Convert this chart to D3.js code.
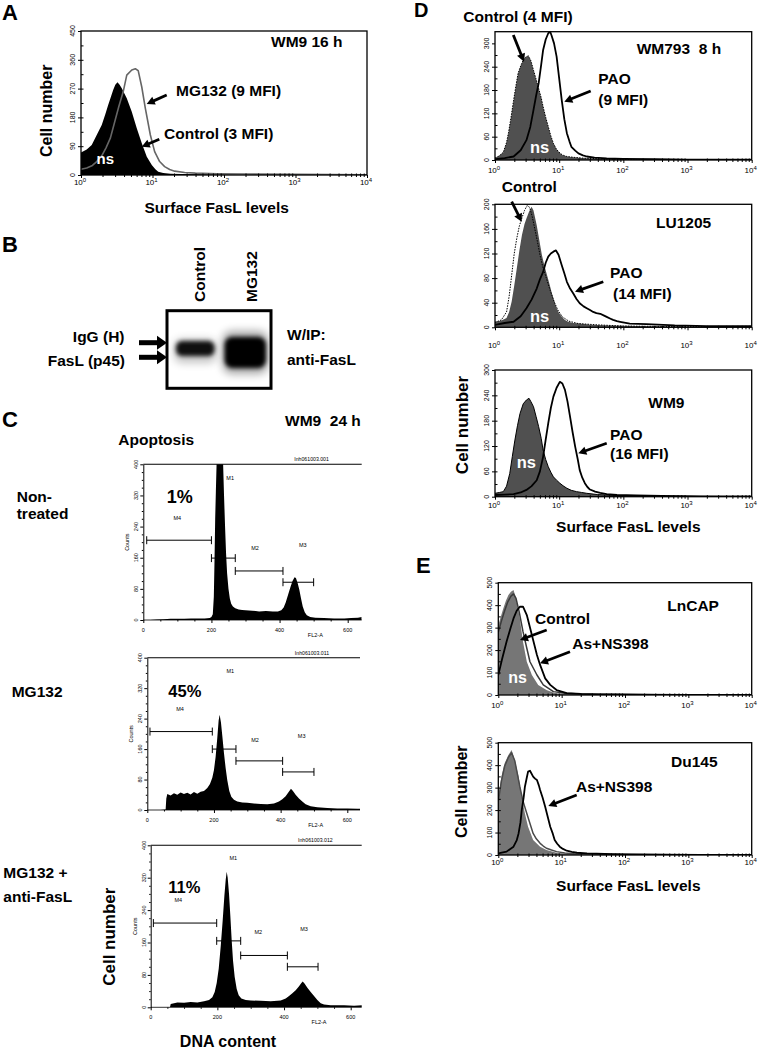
<!DOCTYPE html>
<html>
<head>
<meta charset="utf-8">
<script src="https://cdn.jsdelivr.net/npm/d3@7/dist/d3.min.js"></script>
<style>
html,body{margin:0;padding:0;background:#fff;}
svg{display:block;}
text{font-family:"Liberation Sans",Arial,Helvetica,sans-serif;}
</style>
</head>
<body>
<svg id="fig" width="762" height="1049" viewBox="0 0 762 1049"></svg>
<script>
// ================= DATA =================
// Flow cytometry histograms: [log10 surface FasL intensity, cell number]
// Panel A (WM9 16 h)
const aNs = [[0,70],[0.08,80],[0.15,94],[0.22,125],[0.29,156],[0.34,190],[0.38,219],[0.42,245],[0.45,266],[0.48,282],[0.51,290],[0.54,282],[0.57,271],[0.64,240],[0.71,198],[0.78,146],[0.85,99],[0.92,57],[0.99,31],[1.04,18],[1.08,10],[1.15,6],[1.25,4],[1.4,3],[1.7,2],[2.2,1],[3,1],[4,0]];
const aMG132 = [[0,18],[0.08,22],[0.16,30],[0.22,42],[0.29,60],[0.35,85],[0.41,115],[0.47,165],[0.53,215],[0.59,260],[0.64,312],[0.71,328],[0.76,332],[0.8,326],[0.85,275],[0.9,208],[0.97,125],[1.03,73],[1.1,42],[1.17,26],[1.24,17],[1.31,12],[1.45,8],[1.6,6],[1.9,4],[2.3,3],[3,2],[4,1]];
// Panel D, WM793 8 h
const d1Ns = [[0,5],[0.06,10],[0.13,20],[0.18,45],[0.21,70],[0.25,110],[0.29,154],[0.33,195],[0.36,223],[0.4,242],[0.44,257],[0.48,265],[0.52,268],[0.56,255],[0.6,231],[0.64,208],[0.68,184],[0.72,160],[0.75,137],[0.79,110],[0.83,86],[0.87,62],[0.91,43],[0.95,30],[0.99,21],[1.05,13],[1.12,9],[1.22,7],[1.35,5],[1.5,4],[1.8,2],[2.2,1],[3,1],[4,0]];
const d1Pao = [[0,2],[0.15,5],[0.29,9],[0.4,25],[0.49,51],[0.55,85],[0.6,129],[0.64,165],[0.68,197],[0.72,245],[0.75,283],[0.79,310],[0.83,326],[0.86,330],[0.88,321],[0.92,300],[0.96,266],[1.0,210],[1.04,154],[1.08,105],[1.12,69],[1.16,48],[1.19,34],[1.25,24],[1.3,17],[1.37,12],[1.43,9],[1.55,6],[1.74,4],[2.0,3],[2.5,2],[3,1],[3.5,1],[4,1]];
// Panel D, LU1205
const d2Ns = [[0,9],[0.1,11],[0.18,15],[0.22,25],[0.26,42],[0.3,68],[0.34,96],[0.38,125],[0.42,150],[0.46,168],[0.49,177],[0.53,188],[0.57,196],[0.6,190],[0.65,166],[0.69,142],[0.73,118],[0.77,100],[0.81,85],[0.85,70],[0.88,58],[0.92,44],[0.96,31],[1.0,23],[1.04,17],[1.09,12],[1.14,9],[1.22,7],[1.32,6],[1.5,4],[1.8,3],[2.2,2],[3,1],[4,1]];
const d2Control = [[0,8],[0.1,12],[0.18,25],[0.22,50],[0.26,85],[0.3,120],[0.34,145],[0.38,165],[0.42,178],[0.46,190],[0.5,198],[0.54,195],[0.58,180],[0.62,160],[0.66,140],[0.7,118],[0.74,100],[0.8,80],[0.86,60],[0.92,42],[0.98,28],[1.05,17],[1.15,10],[1.3,6],[1.6,4],[2,2],[3,1],[4,1]];
const d2Pao = [[0,4],[0.15,7],[0.29,9],[0.4,18],[0.49,31],[0.57,45],[0.65,63],[0.7,78],[0.75,90],[0.79,105],[0.83,115],[0.87,120],[0.91,123],[0.95,125],[0.99,118],[1.04,101],[1.08,88],[1.12,74],[1.17,63],[1.22,55],[1.27,46],[1.32,39],[1.38,34],[1.43,31],[1.48,28],[1.53,25],[1.58,23],[1.64,22],[1.7,19],[1.74,17],[1.8,14],[1.84,12],[1.9,10],[1.95,9],[2.1,6],[2.36,5],[2.8,3],[3.3,2],[4,2]];
// Panel D, WM9
const d3Ns = [[0,8],[0.07,10],[0.13,12],[0.18,25],[0.23,55],[0.27,95],[0.31,134],[0.35,168],[0.39,197],[0.44,220],[0.49,229],[0.53,233],[0.56,225],[0.6,213],[0.64,190],[0.68,166],[0.72,138],[0.75,110],[0.79,88],[0.83,71],[0.87,58],[0.91,47],[0.96,39],[1.01,32],[1.06,26],[1.12,20],[1.19,15],[1.27,12],[1.35,10],[1.43,8],[1.6,5],[1.74,4],[2.0,2],[2.5,1],[3,1],[4,0]];
const d3Pao = [[0,4],[0.15,5],[0.29,6],[0.4,10],[0.49,16],[0.57,25],[0.65,39],[0.7,60],[0.75,95],[0.79,135],[0.83,174],[0.87,210],[0.91,237],[0.96,258],[1.01,272],[1.05,268],[1.09,253],[1.13,225],[1.17,189],[1.21,152],[1.25,118],[1.29,88],[1.32,63],[1.36,45],[1.4,32],[1.44,23],[1.48,17],[1.56,12],[1.64,9],[1.74,6],[1.9,4],[2.2,3],[2.6,2],[3.2,1],[4,1]];
// Panel E, LnCAP
const e1Ns = [[0,311],[0.04,350],[0.08,386],[0.12,420],[0.16,445],[0.2,460],[0.24,467],[0.27,440],[0.29,415],[0.34,341],[0.39,237],[0.45,148],[0.53,89],[0.63,45],[0.76,22],[0.9,8],[1.1,5],[1.4,3],[1.8,2],[2.5,1],[4,0]];
const e1Control = [[0,280],[0.05,330],[0.1,375],[0.15,415],[0.2,440],[0.24,450],[0.28,430],[0.33,370],[0.39,282],[0.45,208],[0.5,148],[0.61,89],[0.71,45],[0.87,15],[1.05,8],[1.3,5],[1.8,3],[2.5,1],[4,1]];
const e1AsNS398 = [[0,89],[0.06,160],[0.13,237],[0.19,295],[0.24,341],[0.29,375],[0.34,393],[0.39,393],[0.45,356],[0.53,267],[0.61,178],[0.66,134],[0.74,74],[0.82,45],[0.92,22],[1.08,8],[1.3,5],[1.6,3],[2.2,2],[3,1],[4,1]];
// Panel E, Du145
const e2Ns = [[0,260],[0.05,349],[0.1,409],[0.16,445],[0.21,467],[0.26,423],[0.32,349],[0.37,260],[0.42,185],[0.47,126],[0.55,67],[0.66,37],[0.76,22],[0.92,10],[1.13,4],[1.55,2],[2.5,1],[4,0]];
const e2Control = [[0,240],[0.05,330],[0.1,395],[0.16,435],[0.21,455],[0.26,420],[0.34,304],[0.39,240],[0.45,185],[0.5,140],[0.55,96],[0.6,72],[0.66,52],[0.71,40],[0.76,30],[0.84,22],[0.92,15],[1.05,9],[1.2,6],[1.5,4],[2,2],[2.8,1],[4,1]];
const e2AsNS398 = [[0,7],[0.13,15],[0.24,37],[0.29,65],[0.32,96],[0.35,145],[0.37,200],[0.4,255],[0.42,304],[0.45,345],[0.47,371],[0.5,375],[0.55,349],[0.58,340],[0.61,334],[0.64,310],[0.66,289],[0.7,255],[0.74,215],[0.78,170],[0.82,126],[0.86,95],[0.89,67],[0.93,50],[0.97,37],[1.02,27],[1.08,19],[1.16,14],[1.24,10],[1.4,7],[1.55,6],[1.8,4],[2.1,3],[2.6,2],[3.2,1],[4,1]];

// Axis ticks
const facsDecades = [0,1,2,3,4];
const aYTicks = [0,90,180,270,360,450];
const d1YTicks = [0,60,120,180,240,300];
const d2YTicks = [0,40,80,120,160,200];
const d3YTicks = [0,60,120,180,240,300];
const eYTicks = [0,100,200,300,400,500];

// Panel C: DNA content histograms [FL2-A channel, counts]
const c1Hist = [[0,0],[20,0],[40,1],[60,2],[80,3],[100,3],[120,3],[140,4],[160,4],[180,4],[195,5],[200,8],[204,15],[207,60],[209,150],[211,260],[213,330],[216,430],[222,520],[230,480],[234,410],[237,320],[240,240],[243,170],[246,120],[250,80],[254,55],[258,42],[263,35],[270,30],[280,27],[290,26],[300,25],[320,24],[340,22],[360,23],[380,22],[395,22],[405,25],[412,32],[418,45],[425,65],[432,85],[438,100],[444,110],[448,108],[453,95],[458,78],[463,55],[468,35],[474,20],[480,12],[490,8],[505,6],[530,5],[560,4],[590,4],[610,5],[630,6],[641,8]];
const c2Hist = [[0,0],[40,0],[55,1],[57,30],[60,42],[70,38],[80,44],[90,40],[100,46],[110,42],[120,45],[130,41],[140,47],[150,43],[160,48],[170,50],[180,58],[188,68],[195,85],[200,105],[205,140],[210,190],[214,235],[217,250],[221,230],[225,195],[230,150],[235,110],[240,78],[246,50],[252,35],[260,27],[270,22],[285,20],[300,19],[320,17],[340,16],[360,15],[380,17],[395,22],[405,28],[415,36],[423,46],[431,56],[437,50],[445,40],[455,30],[465,22],[475,15],[490,10],[510,7],[540,5],[570,4],[600,4],[630,3],[641,3]];
const c3Hist = [[0,0],[50,0],[58,1],[60,8],[70,10],[80,12],[100,11],[120,13],[140,12],[160,15],[175,18],[185,25],[192,38],[198,60],[204,95],[210,150],[216,215],[221,275],[225,315],[228,335],[231,320],[235,280],[239,225],[243,165],[247,115],[252,75],[258,45],[264,30],[272,22],[285,18],[300,17],[330,16],[360,15],[390,17],[405,22],[415,28],[425,35],[435,42],[445,52],[452,60],[456,64],[462,58],[470,48],[480,38],[490,28],[500,18],[510,10],[520,7],[540,5],[580,5],[610,4],[641,5]];
// Marker gates: [name, from, to, level]
const cGates1 = [["M4",10,200,205],["M1",200,270,159],["M2",270,410,126],["M3",410,500,97]];
const cGates2 = [["M4",8,195,206],["M1",195,266,160],["M2",266,406,129],["M3",406,500,100]];
const cGates3 = [["M4",8,198,208],["M1",198,270,164],["M2",270,410,128],["M3",410,502,100]];
// Gate label anchors: [name, channel, count]
const cGateLabels1 = [["M4",100,258],["M1",255,360],["M2",328,180],["M3",468,188]];
const cGateLabels2 = [["M4",98,260],["M1",249,360],["M2",323,178],["M3",463,190]];
const cGateLabels3 = [["M4",83,260],["M1",248,364],["M2",323,182],["M3",460,189]];
const cXTicks = [0,200,400,600];
const cYTicks = [0,80,160,240,320,400];
const cApoptosis = ["1%","45%","11%"];
const cFiles = ["Inh061003.001","Inh061003.011","Inh061003.012"];

// Panel B blot
const blotLanes = ["Control","MG132"];
const blotIntensity = [0.9, 1.0];

// ================= DRAWING =================
const svg = d3.select("#fig");
const defs = svg.append("defs");
let clipN = 0;

function T(s, x, y, o = {}) {
  const t = svg.append("text")
    .attr("x", x).attr("y", y)
    .attr("font-size", o.size || 15.5)
    .attr("font-weight", o.weight || "bold")
    .attr("fill", o.fill || "#000")
    .attr("text-anchor", o.anchor || "start")
    .style("white-space", "pre")
    .text(s);
  if (o.rot) t.attr("transform", `rotate(-90,${x},${y})`);
  return t;
}

function arrow(x1, y1, x2, y2, w = 2.8, hl = 8, hw = 8.5) {
  const dx = x2 - x1, dy = y2 - y1, L = Math.hypot(dx, dy);
  const ux = dx / L, uy = dy / L, px = -uy, py = ux;
  const bx = x2 - ux * hl, by = y2 - uy * hl;
  svg.append("line").attr("x1", x1).attr("y1", y1).attr("x2", bx + ux).attr("y2", by + uy)
    .attr("stroke", "#000").attr("stroke-width", w);
  svg.append("path")
    .attr("d", `M${x2},${y2}L${bx + px * hw / 2},${by + py * hw / 2}L${bx - px * hw / 2},${by - py * hw / 2}Z`)
    .attr("fill", "#000");
}

function facs(c) {
  const x = d3.scaleLog().domain([1, 1e4]).range([c.x0, c.x1]);
  const y = d3.scaleLinear().domain([0, c.ymax]).range([c.y0, c.yTop]);
  const g = svg.append("g");
  const id = "clip" + (clipN++);
  defs.append("clipPath").attr("id", id).append("rect")
    .attr("x", c.x0).attr("y", c.yTop - 1).attr("width", c.x1 - c.x0).attr("height", c.y0 - c.yTop + 1);
  const pg = g.append("g").attr("clip-path", `url(#${id})`);
  c.series.forEach(s => {
    const pts = s.data.map(d => [Math.pow(10, d[0]), d[1]]);
    if (s.fill) {
      pg.append("path").datum(pts).attr("fill", s.fill)
        .attr("d", d3.area().x(d => x(d[0])).y0(c.y0).y1(d => y(d[1])));
    }
    if (s.stroke) {
      pg.append("path").datum(pts).attr("fill", "none")
        .attr("stroke", s.stroke).attr("stroke-width", s.sw || 1.6)
        .attr("stroke-dasharray", s.dash || null)
        .attr("stroke-linejoin", "round")
        .attr("d", d3.line().x(d => x(d[0])).y(d => y(d[1])));
    }
  });
  g.append("rect").attr("x", c.x0).attr("y", c.yTop).attr("width", c.x1 - c.x0).attr("height", c.y0 - c.yTop)
    .attr("fill", "none").attr("stroke", "#000").attr("stroke-width", 1.3);
  const majors = facsDecades.map(k => Math.pow(10, k));
  const minors = x.ticks().filter(v => !majors.some(m => Math.abs(m - v) < 1e-9));
  g.append("g").attr("transform", `translate(0,${c.y0})`)
    .call(d3.axisBottom(x).tickValues(majors).tickSize(3).tickSizeOuter(0).tickFormat(""))
    .call(a => a.select(".domain").remove());
  g.append("g").attr("transform", `translate(0,${c.y0})`)
    .call(d3.axisBottom(x).tickValues(minors).tickSize(2).tickSizeOuter(0).tickFormat(""))
    .call(a => a.select(".domain").remove());
  g.append("g").attr("transform", `translate(0,${c.y0})`)
    .call(d3.axisBottom(x).tickValues(minors).tickSize(-1.5).tickSizeOuter(0).tickFormat(""))
    .call(a => a.select(".domain").remove());
  facsDecades.forEach(k => {
    const t = g.append("text").attr("x", x(Math.pow(10, k)) - 1).attr("y", c.labY)
      .attr("text-anchor", "middle").attr("font-size", 8).attr("fill", "#000");
    t.append("tspan").text("10");
    t.append("tspan").attr("dy", -3.5).attr("font-size", 6).text(k);
  });
  g.append("g").attr("transform", `translate(${c.x0},0)`)
    .call(d3.axisLeft(y).tickValues(c.yTicks).tickSize(3).tickSizeOuter(0).tickFormat(""))
    .call(a => a.select(".domain").remove());
  const yMinor = c.yTicks.slice(0, -1).map((v, i) => (v + c.yTicks[i + 1]) / 2).concat(c.yTicks.slice(1, -1));
  g.append("g").attr("transform", `translate(${c.x0},0)`)
    .call(d3.axisLeft(y).tickValues(yMinor).tickSize(-2.5).tickSizeOuter(0).tickFormat(""))
    .call(a => a.select(".domain").remove());
  c.yTicks.forEach(v => {
    g.append("text").attr("transform", `translate(${c.x0 - 6},${y(v)}) rotate(-90)`)
      .attr("text-anchor", "middle").attr("font-size", 7).attr("fill", "#000").text(v);
  });
}

function dna(c) {
  const x = d3.scaleLinear().domain([0, 600]).range([c.x0, c.x600]);
  const y = d3.scaleLinear().domain([0, 400]).range([c.y0, c.y400]);
  const g = svg.append("g");
  const id = "clip" + (clipN++);
  defs.append("clipPath").attr("id", id).append("rect")
    .attr("x", c.x0).attr("y", c.y400).attr("width", c.xR - c.x0).attr("height", c.y0 - c.y400);
  g.append("path").datum(c.data).attr("clip-path", `url(#${id})`).attr("fill", "#000")
    .attr("d", d3.area().x(d => x(d[0])).y0(c.y0).y1(d => y(d[1])));
  g.append("line").attr("x1", c.x0).attr("x2", c.xR).attr("y1", c.y400).attr("y2", c.y400)
    .attr("stroke", "#000").attr("stroke-width", 1.1);
  g.append("line").attr("x1", c.x0).attr("x2", c.xR).attr("y1", c.y0).attr("y2", c.y0)
    .attr("stroke", "#000").attr("stroke-width", 0.8);
  g.append("g").attr("transform", `translate(${c.x0},0)`)
    .call(d3.axisLeft(y).tickValues(cYTicks).tickSize(3).tickSizeOuter(0).tickFormat(""))
    .call(a => a.select(".domain").attr("stroke-width", 1));
  const yMinor = y.ticks(20).filter(v => !cYTicks.includes(v));
  g.append("g").attr("transform", `translate(${c.x0},0)`)
    .call(d3.axisLeft(y).tickValues(yMinor).tickSize(1.5).tickFormat(""))
    .call(a => a.select(".domain").remove());
  g.append("g").attr("transform", `translate(0,${c.y0})`)
    .call(d3.axisBottom(x).tickValues(cXTicks).tickSize(3).tickFormat(""))
    .call(a => a.select(".domain").remove());
  const xMinor = x.ticks(12).filter(v => !cXTicks.includes(v));
  g.append("g").attr("transform", `translate(0,${c.y0})`)
    .call(d3.axisBottom(x).tickValues(xMinor).tickSize(1.5).tickFormat(""))
    .call(a => a.select(".domain").remove());
  cXTicks.forEach(v => g.append("text").attr("x", x(v)).attr("y", c.y0 + 11.5)
    .attr("text-anchor", "middle").attr("font-size", 5.5).text(v));
  cYTicks.forEach(v => g.append("text").attr("transform", `translate(${c.x0 - 5},${y(v)}) rotate(-90)`)
    .attr("text-anchor", "middle").attr("font-size", 5.5).text(v));
  g.append("text").attr("transform", `translate(${c.x0 - 14},${y(200)}) rotate(-90)`)
    .attr("text-anchor", "middle").attr("font-size", 5.5).text("Counts");
  g.append("text").attr("x", x(505)).attr("y", c.y0 + 17).attr("text-anchor", "middle")
    .attr("font-size", 5.5).text("FL2-A");
  g.append("text").attr("x", x(494)).attr("y", c.y400 - 3).attr("text-anchor", "middle")
    .attr("font-size", 5.2).text(c.file);
  c.gates.forEach(m => {
    const [nm, a, b, lv] = m;
    g.append("line").attr("x1", x(a)).attr("x2", x(b)).attr("y1", y(lv)).attr("y2", y(lv))
      .attr("stroke", "#000").attr("stroke-width", 1);
    [a, b].forEach(v => g.append("line").attr("x1", x(v)).attr("x2", x(v))
      .attr("y1", y(lv) - 4).attr("y2", y(lv) + 4).attr("stroke", "#000").attr("stroke-width", 1));
  });
  c.gateLabels.forEach(l => g.append("text").attr("x", x(l[1])).attr("y", y(l[2]))
    .attr("text-anchor", "middle").attr("font-size", 5.5).text(l[0]));
}

// ---------- Panel A ----------
T("A", 2, 20, {size: 22});
facs({x0: 81, x1: 367, y0: 175, yTop: 31, ymax: 450, yTicks: aYTicks, labY: 185,
  series: [{data: aNs, fill: "#000"}, {data: aMG132, stroke: "#666", sw: 1.6}]});
T("WM9 16 h", 271, 47);
T("MG132 (9 MFI)", 176, 96);
T("Control (3 MFI)", 164, 139);
T("ns", 96.5, 164, {size: 15, fill: "#fff"});
arrow(166.7, 95, 146.7, 104);
arrow(159.3, 139.3, 141.7, 146.7);
T("Cell number", 52.5, 110.8, {rot: true, anchor: "middle", size: 16});
T("Surface FasL levels", 216.7, 213, {anchor: "middle"});

// ---------- Panel B ----------
T("B", 2, 252, {size: 22});
T(blotLanes[0], 205, 302, {rot: true});
T(blotLanes[1], 256.5, 302, {rot: true});
{
  const f = defs.append("filter").attr("id", "blurBand").attr("x", "-30%").attr("y", "-60%").attr("width", "160%").attr("height", "220%");
  f.append("feGaussianBlur").attr("stdDeviation", 2.2);
  const f2 = defs.append("filter").attr("id", "blurHalo").attr("x", "-50%").attr("y", "-80%").attr("width", "200%").attr("height", "260%");
  f2.append("feGaussianBlur").attr("stdDeviation", 4);
  defs.append("clipPath").attr("id", "gelClip").append("rect").attr("x", 168.5).attr("y", 312).attr("width", 101).attr("height", 75);
  const bg = svg.append("g").attr("clip-path", "url(#gelClip)");
  const laneX = d3.scaleBand().domain(blotLanes).range([172, 268]).paddingInner(0.06);
  const shade = d3.scaleLinear().domain([0, 1]).range([0.2, 1]);
  bg.append("rect").attr("x", laneX("Control") + 2).attr("y", 339).attr("width", laneX.bandwidth() - 4).attr("height", 24)
    .attr("rx", 8).attr("fill", "#000").attr("opacity", 0.25 * shade(blotIntensity[0])).attr("filter", "url(#blurHalo)");
  bg.append("rect").attr("x", laneX("MG132") + 1).attr("y", 331).attr("width", laneX.bandwidth() - 1).attr("height", 43)
    .attr("rx", 9).attr("fill", "#000").attr("opacity", 0.35 * shade(blotIntensity[1])).attr("filter", "url(#blurHalo)");
  bg.append("rect").attr("x", laneX("Control") + 4).attr("y", 341).attr("width", laneX.bandwidth() - 8).attr("height", 15)
    .attr("rx", 6).attr("fill", "#000").attr("opacity", shade(blotIntensity[0])).attr("filter", "url(#blurBand)");
  bg.append("rect").attr("x", laneX("MG132") + 3).attr("y", 337).attr("width", laneX.bandwidth() - 5).attr("height", 31)
    .attr("rx", 8).attr("fill", "#000").attr("opacity", shade(blotIntensity[1])).attr("filter", "url(#blurBand)");
  svg.append("rect").attr("x", 167).attr("y", 310.7).attr("width", 104).attr("height", 77.6)
    .attr("fill", "none").attr("stroke", "#000").attr("stroke-width", 3);
}
T("IgG (H)", 124.5, 341.7, {anchor: "end"});
T("FasL (p45)", 125, 365.5, {anchor: "end"});
arrow(139, 342.7, 167, 342.7, 5, 10, 14);
arrow(139, 357.3, 167, 357.3, 5, 10, 14);
T("W/IP:", 287, 340);
T("anti-FasL", 287, 365);

// ---------- Panel C ----------
T("C", 2, 427, {size: 22});
T("WM9  24 h", 285, 426);
T("Apoptosis", 118.3, 445);
T("Non-", 16.7, 501.7);
T("treated", 16.7, 519.3);
T("MG132", 11.7, 696.7);
T("MG132 +", 3.3, 878.3);
T("anti-FasL", 3.3, 901.7);
dna({x0: 143.3, x600: 347.7, xR: 361.7, y0: 620, y400: 464.3, data: c1Hist, gates: cGates1, gateLabels: cGateLabels1, file: cFiles[0]});
dna({x0: 147.3, x600: 347.3, xR: 360, y0: 810, y400: 657.7, data: c2Hist, gates: cGates2, gateLabels: cGateLabels2, file: cFiles[1]});
dna({x0: 150.7, x600: 350.7, xR: 361.7, y0: 1007.3, y400: 845.3, data: c3Hist, gates: cGates3, gateLabels: cGateLabels3, file: cFiles[2]});
T(cApoptosis[0], 166.7, 502.7, {size: 18});
T(cApoptosis[1], 168.3, 697.3, {size: 16.5});
T(cApoptosis[2], 168.3, 892.7, {size: 16.5});
T("Cell number", 115.5, 936.7, {rot: true, anchor: "middle", size: 17});
T("DNA content", 228, 1047, {anchor: "middle", size: 16});

// ---------- Panel D ----------
T("D", 414, 17, {size: 20});
T("Control (4 MFI)", 463.3, 21.7);
facs({x0: 495, x1: 751.7, y0: 160, yTop: 31.7, ymax: 330, yTicks: d1YTicks, labY: 173,
  series: [{data: d1Ns, fill: "#505050"}, {data: d1Ns, stroke: "#000", sw: 1, dash: "1.5,1.2"}, {data: d1Pao, stroke: "#000", sw: 1.8}]});
T("WM793  8 h", 636.7, 54.3);
T("PAO", 598.3, 84);
T("(9 MFI)", 598.3, 104.5);
T("ns", 530, 153.3, {size: 16.5, fill: "#fff"});
arrow(513.3, 35, 524, 61.7);
arrow(590.7, 91, 564.3, 101.7);

T("Control", 501.7, 191.7);
facs({x0: 495, x1: 751.7, y0: 327.3, yTop: 204.3, ymax: 200, yTicks: d2YTicks, labY: 348,
  series: [{data: d2Ns, fill: "#505050"}, {data: d2Control, stroke: "#000", sw: 1, dash: "1.5,1.2"}, {data: d2Pao, stroke: "#000", sw: 1.8}]});
T("LU1205", 656, 228.3);
T("PAO", 610, 278.3);
T("(14 MFI)", 613, 299);
T("ns", 530, 321.7, {size: 16.5, fill: "#fff"});
arrow(511.7, 201.7, 521.7, 221.7);
arrow(603.3, 281.7, 575, 291.7);

facs({x0: 495, x1: 751.7, y0: 496.7, yTop: 370, ymax: 300, yTicks: d3YTicks, labY: 508,
  series: [{data: d3Ns, fill: "#505050"}, {data: d3Ns, stroke: "#000", sw: 1}, {data: d3Pao, stroke: "#000", sw: 1.8}]});
T("WM9", 648.3, 408.3);
T("PAO", 610, 440);
T("(16 MFI)", 610, 459);
T("ns", 516.7, 468.3, {size: 16.5, fill: "#fff"});
arrow(606.7, 443.3, 578.3, 453.3);
T("Cell number", 467.5, 425, {rot: true, anchor: "middle", size: 17});
T("Surface FasL levels", 628.3, 531.7, {anchor: "middle"});

// ---------- Panel E ----------
T("E", 416, 573.3, {size: 22});
facs({x0: 498.3, x1: 751.7, y0: 695, yTop: 582.7, ymax: 500, yTicks: eYTicks, labY: 708,
  series: [{data: e1Ns, fill: "#767676"}, {data: e1Control, stroke: "#3a3a3a", sw: 1.5}, {data: e1AsNS398, stroke: "#000", sw: 1.8}]});
T("LnCAP", 667.3, 610.7);
T("Control", 535, 624);
T("As+NS398", 572.3, 649.3);
T("ns", 508.3, 683.3, {size: 16, fill: "#fff"});
arrow(546.7, 630, 520, 640);
arrow(570, 651.7, 540, 663.3);

facs({x0: 498.3, x1: 751.7, y0: 855, yTop: 742.7, ymax: 500, yTicks: eYTicks, labY: 865,
  series: [{data: e2Ns, fill: "#767676"}, {data: e2Control, stroke: "#4a4a4a", sw: 1.5}, {data: e2AsNS398, stroke: "#000", sw: 1.8}]});
T("Du145", 671, 766.7);
T("As+NS398", 576, 791.7);
arrow(576.7, 795, 548.3, 806);
T("Cell number", 467.5, 791.7, {rot: true, anchor: "middle", size: 16});
T("Surface FasL levels", 628.3, 891, {anchor: "middle"});
</script>
</body>
</html>
